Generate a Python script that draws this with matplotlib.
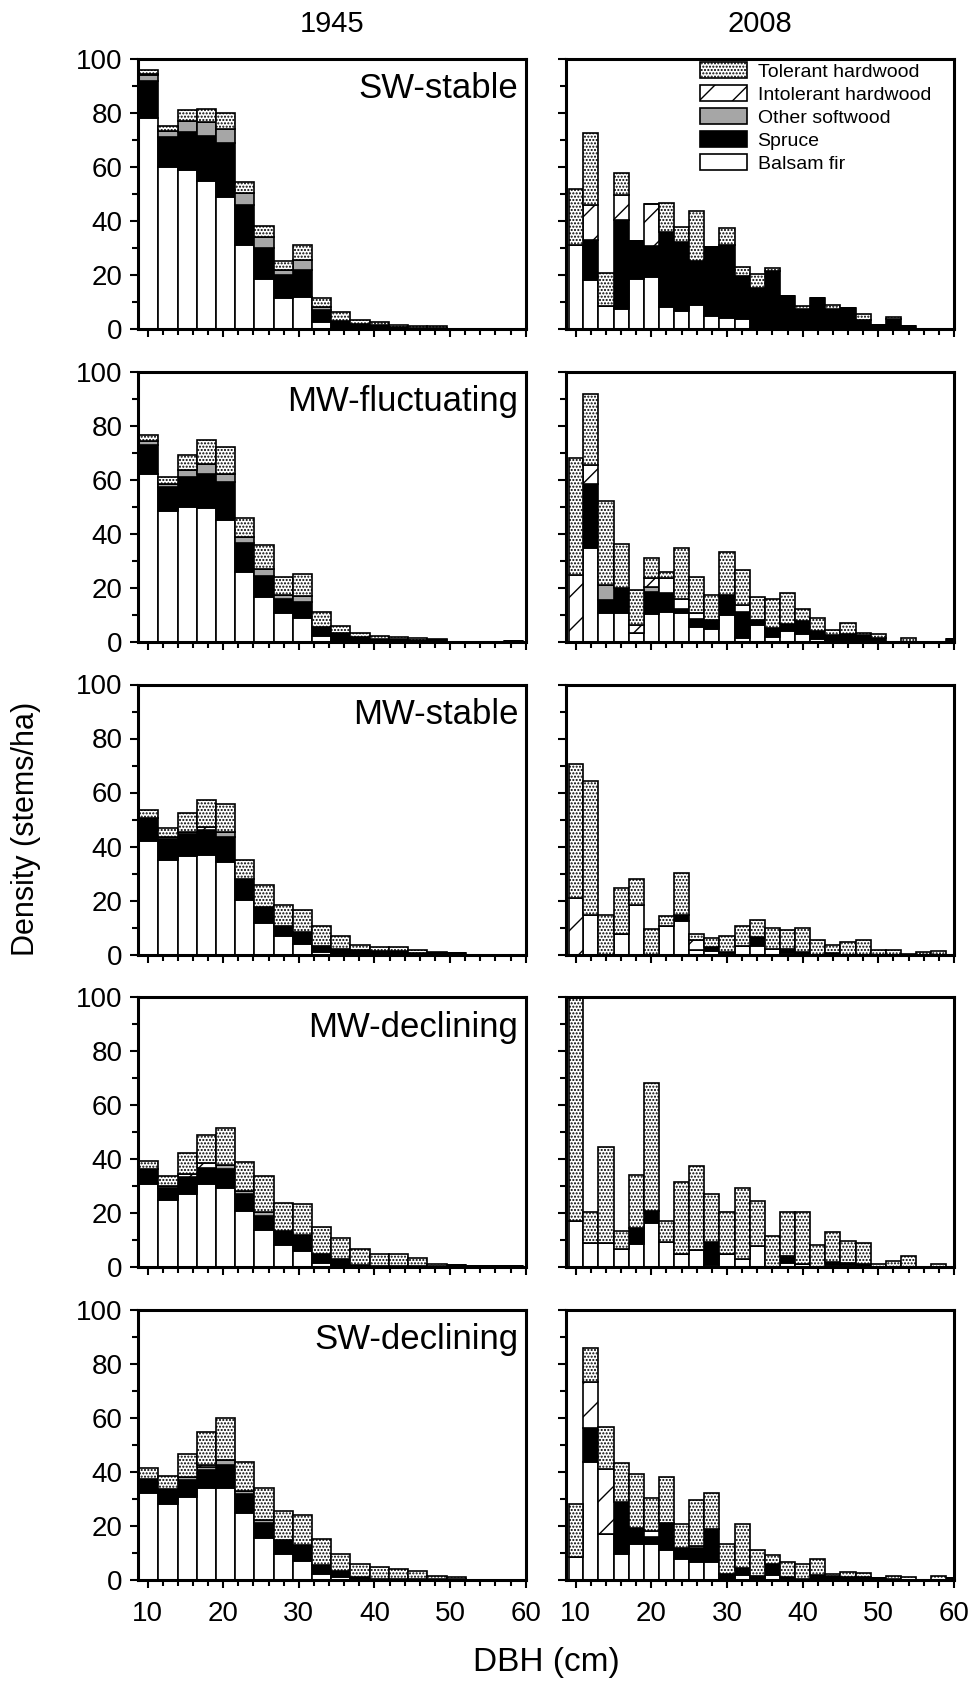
import numpy as np
import matplotlib.pyplot as plt
from matplotlib.patches import Patch
from matplotlib.ticker import MultipleLocator

plt.rcParams['font.family'] = ['Liberation Sans', 'DejaVu Sans']
plt.rcParams['hatch.linewidth'] = 1.0

# 1945 data were tallied in 1-inch classes (4..23 in), 2008 in 2-cm classes
dbh_1945 = np.arange(4, 24) * 2.54
dbh_2008 = np.arange(10, 62, 2)

species = ["Balsam fir", "Spruce", "Other softwood", "Intolerant hardwood", "Tolerant hardwood"]
stands = ["SW-stable", "MW-fluctuating", "MW-stable", "MW-declining", "SW-declining"]

# each panel: [balsam fir, spruce, other softwood, intolerant hw, tolerant hw]
sw_stable_1945 = [
    [78, 60, 59, 55, 49, 31, 18.5, 11.5, 11.7, 2.5, 0.5, 0.2, 0, 0, 0, 0, 0, 0, 0, 0],
    [13.8, 11, 14, 16.5, 20, 15, 11.5, 8.5, 10.2, 4.5, 2.5, 1.6, 1.5, 0.7, 0.5, 0.4, 0, 0, 0, 0],
    [2.2, 2.5, 4, 5, 5, 4.5, 4, 2, 3.6, 1, 0, 0, 0, 0, 0, 0, 0, 0, 0, 0],
    [0.3, 0, 0, 0, 0, 0, 0, 0, 0, 0, 0, 0, 0, 0, 0, 0, 0, 0, 0, 0],
    [1.5, 1.5, 4, 5, 6, 4, 4, 3.3, 5.7, 3.4, 3.2, 1.5, 1.2, 0.8, 0.5, 0.6, 0, 0, 0, 0],
]
sw_stable_2008 = [
    [31, 18, 8.6, 7.4, 18.5, 19.4, 8, 6.5, 8.9, 5, 4, 3.7, 0.5, 0.5, 0.5, 0, 0.4, 0, 0, 0, 0, 0, 0, 0, 0, 0],
    [0, 15, 0, 33, 14, 11.5, 27.8, 25.8, 16.4, 25.3, 27.2, 16.1, 14.8, 21, 11.8, 7.4, 11, 7.4, 7.8, 3.3, 1.5, 3.7, 1.2, 0, 0, 0],
    [0] * 26,
    [0, 13, 0, 9.4, 0, 15.5, 0, 0, 0, 0, 0, 0, 0, 0, 0, 0, 0, 0, 0, 0, 0, 0, 0, 0, 0, 0],
    [21, 26.5, 12, 7.9, 0, 0, 10.7, 5.6, 18.5, 0, 6.2, 3.3, 5, 1.2, 0, 1.2, 0, 1.5, 0, 2.3, 0, 0.6, 0, 0, 0, 0],
]
mw_fluct_1945 = [
    [62, 48.4, 50, 49.6, 45, 25.9, 16.7, 10.5, 8.9, 2.2, 0.3, 0, 0, 0, 0, 0, 0, 0, 0, 0],
    [11, 9, 11.1, 12.7, 14, 10.5, 7.7, 5.5, 5.9, 3.4, 2.8, 1.9, 1.0, 1.0, 0.8, 0.5, 0, 0, 0, 0.4],
    [1.5, 1.2, 2.5, 3.4, 3.3, 2.5, 2.5, 1.3, 2.2, 0, 0, 0, 0, 0, 0, 0, 0, 0, 0, 0],
    [0] * 20,
    [2, 2.5, 5.5, 9, 9.9, 7, 9.1, 6.8, 8.1, 5.3, 2.7, 1.4, 1.1, 0.9, 0.7, 0.4, 0, 0, 0, 0],
]
mw_fluct_2008 = [
    [0, 34.6, 10.5, 10.5, 3.1, 10.1, 11.1, 10.5, 5.6, 4.9, 9.9, 1.5, 6.2, 1.9, 4, 2.7, 1, 0, 0, 0, 0, 0, 0, 0, 0, 0],
    [0, 24, 4.9, 9.3, 0, 8.4, 6.8, 1.5, 3, 3.1, 7.4, 9.6, 1.8, 3.3, 2.4, 5, 3, 2.5, 2.7, 2.5, 1.5, 0, 0, 0, 0, 1.2],
    [0, 0, 5.6, 0, 0, 1.9, 0, 0, 0, 0, 0, 0, 0, 0, 0, 0, 0, 0, 0, 0, 0, 0, 0, 0, 0, 0],
    [24.7, 6.8, 0, 0, 3.1, 3.1, 5.6, 4, 1.9, 0, 0, 2.5, 0, 0, 0, 0, 0, 0, 0, 0, 0, 0, 0, 0, 0, 0],
    [43.2, 26.2, 31.1, 16.3, 12.9, 7.6, 2.4, 18.8, 13.6, 9.3, 15.8, 13, 8.7, 10.8, 11.5, 4.4, 4.9, 1.8, 4.1, 0.6, 1.2, 0, 1.5, 0, 0, 0],
]
mw_stable_1945 = [
    [42, 35.1, 36.3, 37, 34.2, 20.2, 11.6, 6.7, 4, 0.9, 0, 0, 0, 0, 0, 0, 0, 0, 0, 0],
    [8.6, 7.8, 8.2, 9, 9.5, 7.8, 5.9, 4, 4.3, 2.4, 2.1, 1.7, 1.2, 1.2, 0.7, 0.5, 0.5, 0, 0, 0],
    [0, 0.6, 0.9, 0, 1.6, 0, 0, 0, 0, 0, 0, 0, 0, 0, 0, 0, 0, 0, 0, 0],
    [0, 0, 0, 1.2, 0, 0, 0, 0, 0, 0, 0, 0, 0, 0, 0, 0, 0, 0, 0, 0],
    [3, 3.4, 6.9, 10.2, 10.5, 7.1, 8.1, 7.8, 8.2, 7.4, 4.6, 2, 1.5, 1.5, 0.8, 0.4, 0, 0, 0, 0],
]
mw_stable_2008 = [
    [0, 14.8, 0, 7.7, 18.5, 0, 10.7, 12.3, 1.7, 1.2, 0.5, 3.3, 3, 2.1, 0.6, 0, 0, 0.5, 0, 0, 0, 0, 0, 0, 0, 0],
    [0, 0, 0, 0, 0, 0, 0, 2.5, 0, 1.5, 0.4, 0, 3.4, 0, 1.5, 0.9, 0, 0, 0, 0, 0, 0, 0, 0, 0, 0],
    [0] * 26,
    [21, 0, 0, 0, 0, 0, 0, 0, 3.5, 0, 0, 0, 0, 0, 0, 0, 0, 0, 0, 0, 0, 0, 0, 0, 0, 0],
    [49.4, 49.4, 14.8, 17, 9.3, 9.5, 3.4, 15.3, 2.5, 3.5, 6.1, 7.1, 6.2, 7.8, 7, 9, 5.4, 3.2, 4.8, 5.2, 1.7, 1.7, 0.3, 0.9, 1.2, 0],
]
mw_decl_1945 = [
    [30.8, 25, 27.3, 30.8, 29.5, 20.8, 13.8, 8.3, 6, 1.6, 0, 0, 0, 0, 0, 0, 0, 0, 0, 0],
    [5.5, 4.2, 6.2, 5.8, 6.8, 6.2, 5, 5.2, 6, 3.4, 2.9, 1, 0.5, 0.5, 0.5, 0.5, 1.0, 0.4, 0.3, 0.3],
    [0, 0.8, 0, 0, 1.6, 1.3, 1.6, 0, 0, 0, 0, 0, 0, 0, 0, 0, 0, 0, 0, 0],
    [0, 0, 1, 1.9, 0, 0, 0, 0, 0, 0, 0, 0, 0, 0, 0, 0, 0, 0, 0, 0],
    [3.1, 3.8, 8, 10.6, 13.7, 10.8, 13.4, 10.3, 11.5, 10, 8.1, 5.6, 4.5, 4.3, 2.8, 0.8, 0, 0, 0, 0],
]
mw_decl_2008 = [
    [17, 9.1, 8.8, 6.6, 8.5, 16.3, 9.5, 4.8, 6.3, 1, 4.8, 2.9, 7.9, 0, 1.6, 1.3, 0, 1, 1, 0, 0, 0, 0, 0, 0, 0],
    [0, 0, 0, 0, 6, 4.7, 0, 0, 0, 8.5, 0, 0, 0, 0, 2.5, 0, 0, 1, 0.6, 1.3, 0, 0, 0, 0, 0, 0],
    [0] * 26,
    [0] * 26,
    [83, 11.3, 35.7, 6.7, 19.6, 47.3, 7.8, 26.8, 31.2, 17.5, 15.6, 26.6, 16.6, 11.6, 16.3, 19.1, 8.3, 10.9, 8.2, 7.5, 1.3, 2.5, 4.1, 0, 1.3, 0],
]
sw_decl_1945 = [
    [32.3, 28.2, 30.9, 34.1, 34.1, 24.8, 15.7, 9.8, 7.1, 2.2, 1, 0, 0, 0, 0, 0, 0, 0, 0, 0],
    [5.1, 5.5, 6.1, 6.6, 8.6, 7.1, 5.4, 5.2, 5.8, 3.3, 2.4, 1, 0.5, 0.5, 0.4, 0.3, 0.2, 0, 0, 0],
    [0, 0, 1, 1, 1.7, 1.2, 1.2, 0, 0, 0, 0, 0, 0, 0, 0, 0, 0, 0, 0, 0],
    [0, 0, 0, 1, 0, 0, 0, 0, 0, 0, 0, 0, 0, 0, 0, 0, 0, 0, 0, 0],
    [4.1, 4.7, 8.6, 12.3, 15.5, 10.5, 11.8, 10.5, 11, 9.5, 6.4, 4.9, 4.4, 3.4, 3, 1.2, 1, 0, 0, 0],
]
sw_decl_2008 = [
    [8.6, 43.6, 17.2, 9.8, 13.5, 13.5, 11, 7.6, 6.7, 6.7, 0, 1.8, 0.5, 1.8, 0, 0, 0, 0, 0, 0, 0, 0, 0, 0, 0, 0],
    [0, 12.6, 0, 19, 5.9, 2.5, 10.1, 4.1, 5, 12.3, 2.2, 2.5, 1, 4.3, 1, 0.5, 1.8, 1.5, 1.1, 1, 0.6, 0.5, 0, 0, 0, 0.6],
    [0] * 26,
    [0, 17.2, 23.9, 0, 0, 2, 0, 0, 0.8, 0, 0, 0, 0, 0, 0, 0, 0, 0, 0, 0, 0, 0, 0, 0, 0, 0],
    [19.6, 12.7, 15.7, 14.4, 19.9, 12.4, 16.9, 8.9, 17.3, 13.1, 11.1, 16.6, 9.5, 3.1, 5.7, 5.6, 5.8, 0.7, 2, 1.5, 0, 1, 1.2, 0, 1.5, 0],
]

panels_1945 = [sw_stable_1945, mw_fluct_1945, mw_stable_1945, mw_decl_1945, sw_decl_1945]
panels_2008 = [sw_stable_2008, mw_fluct_2008, mw_stable_2008, mw_decl_2008, sw_decl_2008]

# fill styles for each species (same order as above)
faces = ['white', 'black', '#a6a6a6', 'white', 'white']
hatches = [None, None, None, '/', '.....']

W, H = 976, 1693
fig = plt.figure(figsize=(W / 100, H / 100), dpi=100)

col_left = [137.7 / W, 565.9 / W]
ax_w = 388 / W
ax_h = 270 / H


def draw_panel(ax, x, widths, data, align):
    bottom = np.zeros(len(x))
    for vals, fc, ht in zip(data, faces, hatches):
        vals = np.array(vals, dtype=float)
        ax.bar(x, vals, width=widths, bottom=bottom, align=align, color=fc,
               edgecolor='black', linewidth=1.2, hatch=ht)
        bottom += vals


# 2008 first class starts at 9.1 cm
left_2008 = np.maximum(dbh_2008 - 1, 9.1)
width_2008 = dbh_2008 + 1 - left_2008

axes = []
for i in range(5):
    y0 = 1 - (329 + 312.75 * i) / H
    for j in range(2):
        ax = fig.add_axes([col_left[j], y0, ax_w, ax_h])
        if j == 0:
            draw_panel(ax, dbh_1945, 2.54, panels_1945[i], 'center')
        else:
            draw_panel(ax, left_2008, width_2008, panels_2008[i], 'edge')
        ax.set_xlim(8.7, 60)
        ax.set_ylim(0, 100)
        ax.set_xticks(range(10, 61, 10))
        ax.xaxis.set_minor_locator(MultipleLocator(2))
        ax.set_yticks(range(0, 101, 20))
        ax.yaxis.set_minor_locator(MultipleLocator(10))
        ax.tick_params(which='major', direction='out', length=6, width=1.5,
                       labelsize=20)
        ax.tick_params(which='minor', direction='out', length=4, width=1.5)
        ax.tick_params(axis='x', pad=9)
        ax.tick_params(axis='y', pad=5)
        for s in ax.spines.values():
            s.set_linewidth(2.2)
        if i < 4:
            ax.tick_params(axis='x', labelbottom=False)
        if j == 1:
            ax.tick_params(axis='y', labelleft=False)
        else:
            ax.text(0.981, 0.95, stands[i], transform=ax.transAxes,
                    ha='right', va='top', fontsize=25)
        axes.append(ax)

# legend in the top-right panel
handles = [Patch(facecolor=faces[k], edgecolor='black', hatch=hatches[k],
                 linewidth=1.2, label=species[k]) for k in range(4, -1, -1)]
axes[1].legend(handles=handles, loc='upper left', bbox_to_anchor=(0.346, 0.99),
               frameon=False, fontsize=14, handlelength=2.4, handleheight=0.95,
               handletextpad=0.55, labelspacing=0.2, borderpad=0,
               borderaxespad=0)

fig.text((137.7 + 525.5) / 2 / W, 1 - 24 / H, '1945', ha='center', va='center', fontsize=21)
fig.text((565.9 + 953.7) / 2 / W, 1 - 24 / H, '2008', ha='center', va='center', fontsize=21)
fig.text(26 / W, 1 - 829 / H, 'Density (stems/ha)', rotation=90,
         ha='center', va='center', fontsize=22)
fig.text(546 / W, 1 - 1663 / H, 'DBH (cm)', ha='center', va='center', fontsize=24)

fig.savefig('out.png', dpi=100)
